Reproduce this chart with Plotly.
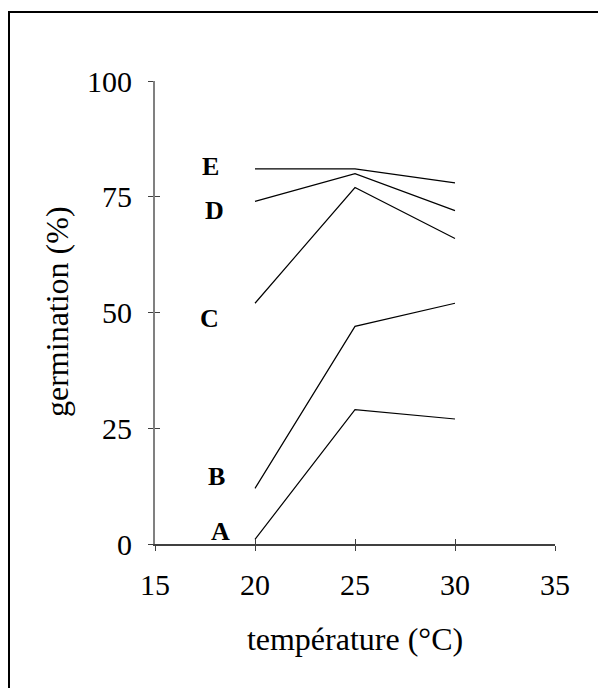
import plotly.graph_objects as go

temperature = [20, 25, 30]
series_names = ["A", "B", "C", "D", "E"]
germ_A = [1, 29, 27]
germ_B = [12, 47, 52]
germ_C = [52, 77, 66]
germ_D = [74, 80, 72]
germ_E = [81, 81, 78]
label_x = [18.25, 18.05, 17.72, 17.95, 17.79]
label_y = [2.7, 14.5, 48.6, 72.1, 81.6]
x_ticks = [15, 20, 25, 30, 35]
y_ticks = [0, 25, 50, 75, 100]

FONT = "Liberation Serif"
series_values = [germ_A, germ_B, germ_C, germ_D, germ_E]

fig = go.Figure()
for name, vals in zip(series_names, series_values):
    fig.add_trace(go.Scatter(x=temperature, y=vals, mode="lines", name=name,
                             line=dict(color="black", width=1.2),
                             showlegend=False, hoverinfo="skip"))

for name, lx, ly in zip(series_names, label_x, label_y):
    fig.add_annotation(x=lx, y=ly, text="<b>%s</b>" % name, showarrow=False,
                       xanchor="center", yanchor="middle",
                       font=dict(family=FONT, size=26, color="black"))

# page body has an 8px margin, so the figure is laid out 8px smaller
OFF = 8
W, H = 606 - OFF, 688 - OFF
ml, mt = 155 - OFF, 81 - OFF
pw, ph = 400, 463
mr, mb = W - ml - pw, H - mt - ph

def px_x(p):
    return (p - OFF - ml) / pw

def px_y(p):
    return (H - mb - (p - OFF)) / ph

# outer frame
fig.add_shape(type="rect", xref="paper", yref="paper",
              x0=px_x(9), x1=px_x(640), y0=px_y(720), y1=px_y(12),
              line=dict(color="black", width=2), fillcolor="rgba(0,0,0,0)")

# y axis title
fig.add_annotation(xref="paper", yref="paper", x=px_x(57), y=px_y(312),
                   text="germination (%)", textangle=-90, showarrow=False,
                   xanchor="center", yanchor="middle",
                   font=dict(family=FONT, size=32, color="black"))

fig.update_layout(
    width=W, height=H,
    margin=dict(l=ml, r=mr, t=mt, b=mb, pad=0),
    paper_bgcolor="white", plot_bgcolor="white",
    font=dict(family=FONT, size=30, color="black"),
    xaxis=dict(range=[15, 35], tickvals=x_ticks, ticktext=[str(v) for v in x_ticks],
               showgrid=False, zeroline=False, showline=True, linecolor="#404040",
               linewidth=1.5, ticks="outside", ticklen=5, tickwidth=1.2,
               tickcolor="#404040", tickfont=dict(family=FONT, size=30),
               ticklabelstandoff=8,
               title=dict(text="température (°C)", font=dict(family=FONT, size=32),
                          standoff=28)),
    yaxis=dict(range=[0, 100], tickvals=y_ticks, ticktext=[str(v) for v in y_ticks],
               showgrid=False, zeroline=False, showline=True, linecolor="#808080",
               linewidth=2, ticks="outside", ticklen=5, tickwidth=1.2,
               tickcolor="#404040", tickfont=dict(family=FONT, size=30),
               ticklabelstandoff=10),
    xaxis2=dict(range=[15, 35], tickvals=x_ticks, overlaying="x", side="bottom",
                showticklabels=False, showgrid=False, zeroline=False, showline=False,
                ticks="inside", ticklen=5, tickwidth=1.2, tickcolor="#404040",
                anchor="y"),
    yaxis2=dict(range=[0, 100], tickvals=y_ticks, overlaying="y", side="left",
                showticklabels=False, showgrid=False, zeroline=False, showline=False,
                ticks="inside", ticklen=5, tickwidth=1.2, tickcolor="#404040",
                anchor="x"),
)
fig.add_trace(go.Scatter(x=[None], y=[None], xaxis="x2", yaxis="y2",
                         showlegend=False, hoverinfo="skip"))

fig.write_html("out.html")
